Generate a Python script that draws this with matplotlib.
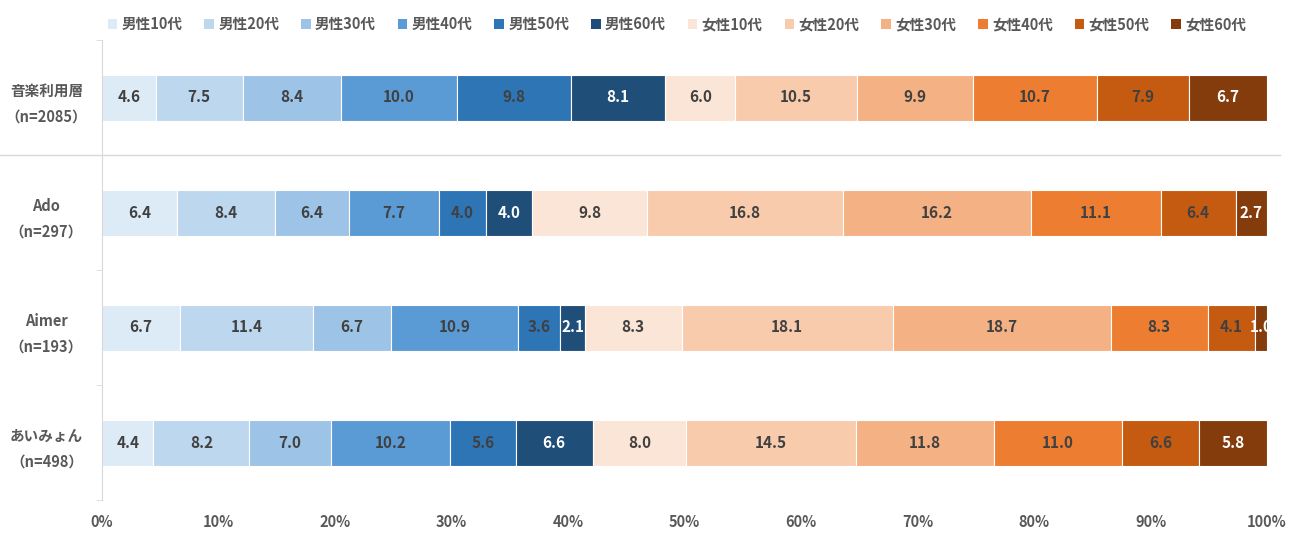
import matplotlib
matplotlib.use("Agg")
import matplotlib.pyplot as plt
from matplotlib.lines import Line2D
from matplotlib.patches import Patch
import numpy as np

plt.rcParams['font.family'] = ['Noto Sans CJK JP', 'DejaVu Sans']

categories = ["音楽利用層\n（n=2085）", "Ado\n（n=297）", "Aimer\n（n=193）", "あいみょん\n（n=498）"]
series = ["男性10代", "男性20代", "男性30代", "男性40代", "男性50代", "男性60代",
          "女性10代", "女性20代", "女性30代", "女性40代", "女性50代", "女性60代"]
values = {
    "音楽利用層": [4.6, 7.5, 8.4, 10.0, 9.8, 8.1, 6.0, 10.5, 9.9, 10.7, 7.9, 6.7],
    "Ado":       [6.4, 8.4, 6.4, 7.7, 4.0, 4.0, 9.8, 16.8, 16.2, 11.1, 6.4, 2.7],
    "Aimer":     [6.7, 11.4, 6.7, 10.9, 3.6, 2.1, 8.3, 18.1, 18.7, 8.3, 4.1, 1.0],
    "あいみょん": [4.4, 8.2, 7.0, 10.2, 5.6, 6.6, 8.0, 14.5, 11.8, 11.0, 6.6, 5.8],
}
xticklabels = ["0%", "10%", "20%", "30%", "40%", "50%", "60%", "70%", "80%", "90%", "100%"]

colors = ["#DDEBF7", "#BDD7EE", "#9DC3E6", "#5B9BD5", "#2E75B6", "#1F4E79",
          "#FBE5D6", "#F8CBAD", "#F4B183", "#ED7D31", "#C55A11", "#843C0C"]
label_colors = ["#404040"] * 5 + ["white"] + ["#404040"] * 5 + ["white"]

fig = plt.figure(figsize=(12.98, 5.36), dpi=100)
ax = fig.add_axes([102/1298, 36/536, 1165/1298, 460/536])

data = np.array(list(values.values()))
norm = data / data.sum(axis=1, keepdims=True) * 100
y = np.arange(len(categories))
left = np.zeros(len(categories))
for j, s in enumerate(series):
    w = norm[:, j]
    ax.barh(y, w, left=left, height=0.4, color=colors[j], edgecolor="white",
            linewidth=0.8, label=s)
    for i in range(len(categories)):
        ax.text(left[i] + w[i] / 2, y[i], f"{data[i, j]:.1f}", ha="center", va="center",
                fontsize=11, fontweight="bold", color=label_colors[j])
    left += w

ax.set_xlim(0, 100)
ax.set_ylim(len(categories) - 0.5, -0.5)
ax.set_yticks(y)
ax.set_yticklabels(categories, fontsize=10.5, fontweight="bold", color="#595959",
                   linespacing=1.7, ha="center", multialignment="center")
ax.set_yticks(np.arange(len(categories) + 1) - 0.5, minor=True)
ax.tick_params(axis="y", which="major", length=0, pad=40)
ax.tick_params(axis="y", which="minor", length=4, color="#D9D9D9")
ax.set_xticks(np.arange(0, 101, 10))
ax.set_xticklabels(xticklabels, fontsize=10.5, fontweight="bold", color="#595959")
ax.tick_params(axis="x", length=0, pad=10)
for sp in ["top", "right", "bottom"]:
    ax.spines[sp].set_visible(False)
ax.spines["left"].set_color("#D9D9D9")

# separator line under the first row
ax.add_line(Line2D([-72, 101.1], [0.5, 0.5], color="#D9D9D9", linewidth=1,
                   transform=ax.transData, clip_on=False))

handles = [Patch(facecolor=c, edgecolor="none") for c in colors]
leg = fig.legend(handles, series, loc="center", bbox_to_anchor=(677/1298, 0.955), ncol=12,
                 frameon=False, handlelength=0.65, handleheight=0.65, handletextpad=0.3,
                 columnspacing=1.5, prop={"size": 10.5, "weight": "bold"})
for t in leg.get_texts():
    t.set_color("#595959")

fig.savefig("out.png", dpi=100)
